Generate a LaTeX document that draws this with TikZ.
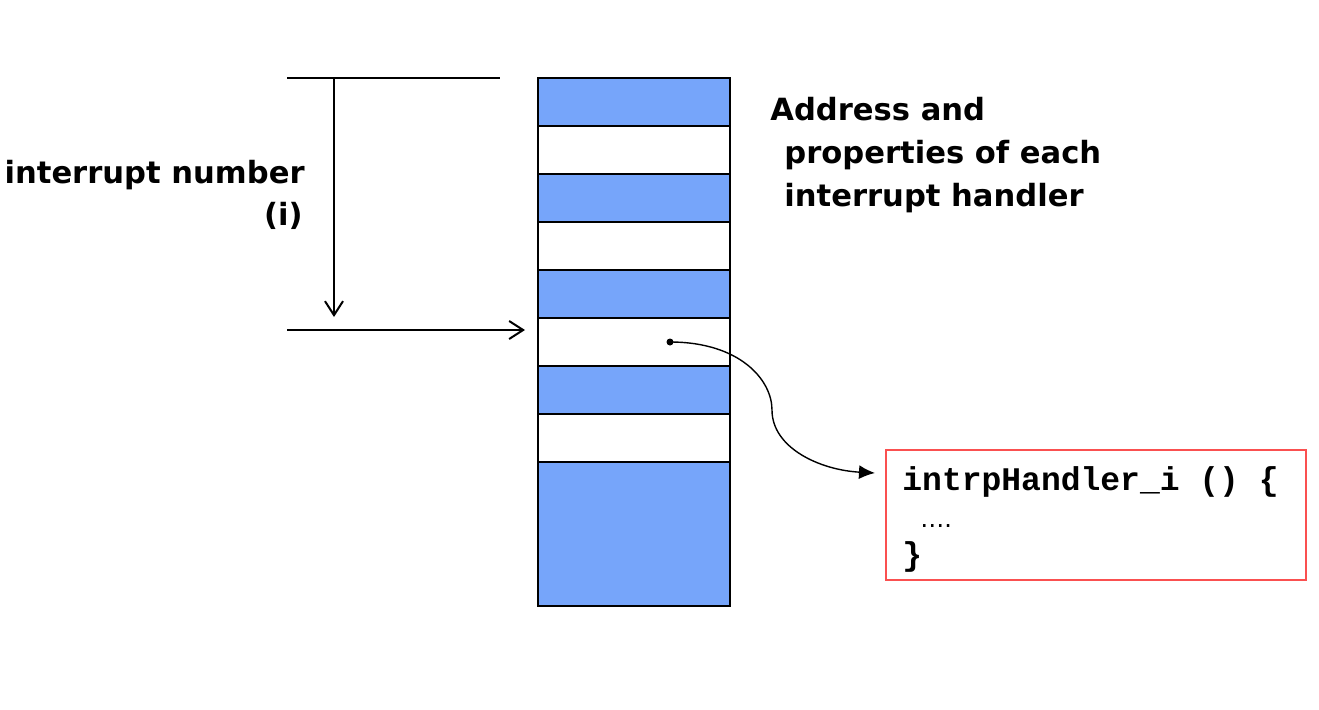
\documentclass[tikz,border=0pt]{standalone}
\usepackage{fontspec}
\setmainfont{DejaVu Sans}
\setmonofont{Liberation Mono}
\usetikzlibrary{arrows.meta}
\definecolor{cellblue}{RGB}{118,165,250}
\definecolor{boxred}{RGB}{250,80,80}
\begin{document}
\begin{tikzpicture}[x=0.5pt,y=-0.5pt,
  cell/.style={draw=black,line width=1pt,minimum width=96pt,minimum height=24pt,inner sep=0pt,outer sep=0pt},
  bluecell/.style={cell,fill=cellblue},
  whitecell/.style={cell,fill=white},
  lbl/.style={font=\bfseries\fontsize{15.3}{18}\selectfont,inner sep=0pt},
  code/.style={font=\ttfamily\bfseries\fontsize{16.5}{19}\selectfont,inner sep=0pt,anchor=base west},
  arr/.style={line width=1pt,-{Straight Barb[length=7pt,width=9pt,line width=1pt]}}]
\useasboundingbox (0,0) rectangle (1319,709);
% table
\node[bluecell]  (r0) at (634,102) {};
\node[whitecell] (r1) at (634,150) {};
\node[bluecell]  (r2) at (634,198) {};
\node[whitecell] (r3) at (634,246) {};
\node[bluecell]  (r4) at (634,294) {};
\node[whitecell] (r5) at (634,342) {};
\node[bluecell]  (r6) at (634,390) {};
\node[whitecell] (r7) at (634,438) {};
\node[bluecell,minimum height=72pt] (r8) at (634,534) {};
% left lines
\coordinate (tl) at (287,78);
\coordinate (tr) at (500,78);
\coordinate (vtop) at (334,78);
\coordinate (vbot) at (334,317);
\coordinate (hl) at (287,330);
\coordinate (hr) at (525,330);
\draw[line width=1pt] (tl) -- (tr);
\draw[arr] (vtop) -- (vbot);
\draw[arr] (hl) -- (hr);
% labels
\node[lbl,anchor=base east] (num) at (305,183) {interrupt number};
\node[lbl,anchor=base east] (ii) at (303,225) {(i)};
\node[lbl,anchor=base west] (a1) at (770,120) {Address and};
\node[lbl,anchor=base west] (a2) at (784,163) {properties of each};
\node[lbl,anchor=base west] (a3) at (784,206) {interrupt handler};
% handler box
\node[draw=boxred,line width=0.8pt,minimum width=210pt,minimum height=65pt,inner sep=0pt] (hb) at (1096,515) {};
\node[code] (c1) at (902,490) {intrpHandler\_i () \{};
\node[code] (c2) at (920,527) {\mdseries\rmfamily\fontsize{12}{14}\selectfont ….};
\node[code] (c3) at (902,565) {\}};
% pointer
\coordinate (pstart) at (670,342);
\coordinate (pend) at (875,473);
\fill (pstart) circle (3.5);
\draw[line width=0.7pt,-{Latex[length=8pt,width=7pt]}] (pstart) .. controls (740,342) and (772,380) .. (772,410) .. controls (772,448) and (820,470) .. (pend);
\end{tikzpicture}
\end{document}
